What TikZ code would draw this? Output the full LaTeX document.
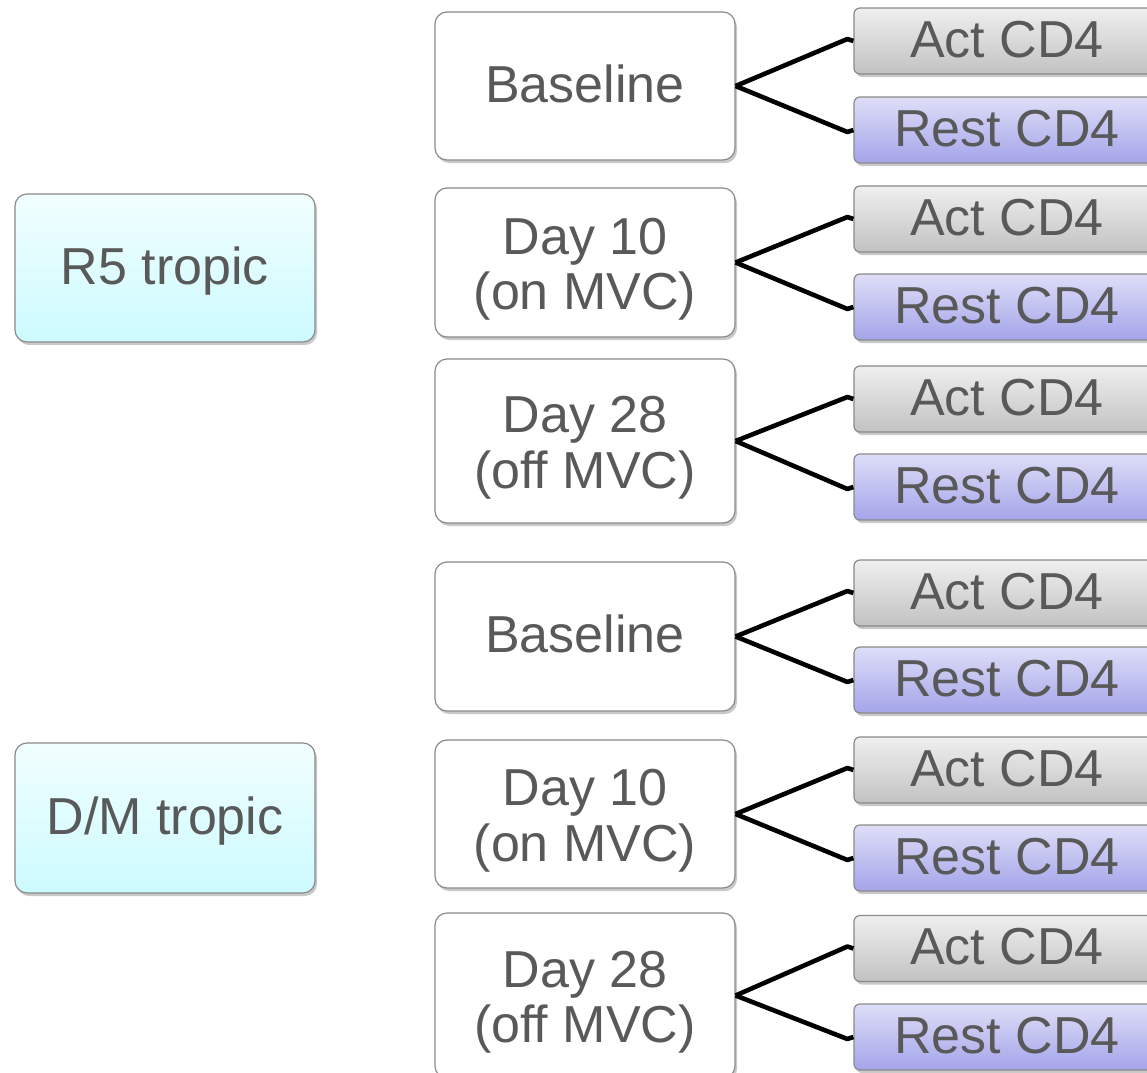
\documentclass[tikz,border=0pt]{standalone}
\usepackage{fontspec}
\setmainfont{Liberation Sans}
\usetikzlibrary{shadows}
\definecolor{txt}{HTML}{595959}
\definecolor{edge}{HTML}{8A8A8A}
\definecolor{actTop}{HTML}{EFEFEF}
\definecolor{actBot}{HTML}{C2C2C2}
\definecolor{restTop}{HTML}{DEDEF8}
\definecolor{restBot}{HTML}{A4A4EA}
\definecolor{tropTop}{HTML}{F2FEFF}
\definecolor{tropBot}{HTML}{CCFBFF}
% taller first line, so two-line labels sit a little lower in their boxes
\newcommand{\firstline}{\rule{0pt}{25pt}}
\tikzset{
  base/.style={draw=edge, line width=0.6pt, inner sep=0pt, align=center,
    text=txt, font=\fontsize{26}{27.75}\selectfont,
    drop shadow={shadow xshift=1pt, shadow yshift=-1.5pt, opacity=0.35, fill=black!60}},
  oneline/.style={text height=16pt, text depth=0pt},
  tropbox/.style={base, rounded corners=6pt, minimum width=150pt,
    top color=tropTop, bottom color=tropBot},
  datebox/.style={base, rounded corners=6pt, minimum width=150pt, fill=white},
  actbox/.style={base, oneline, rounded corners=3pt, minimum width=153pt, minimum height=33pt,
    top color=actTop, bottom color=actBot},
  restbox/.style={base, oneline, rounded corners=3pt, minimum width=153pt, minimum height=33pt,
    top color=restTop, bottom color=restBot},
  conn/.style={draw=black, line width=2.3pt, line join=round}
}
\begin{document}
\begin{tikzpicture}[x=0.5pt, y=-0.5pt]
  \clip (0,0) rectangle (1147,1072);
  \fill[white] (0,0) rectangle (1147,1072);

  % tropism groups
  \node[tropbox, oneline, minimum height=74pt] (r5) at (165,268) {R5 tropic};
  \node[tropbox, oneline, minimum height=75pt] (dm) at (165,818) {D/M tropic};

  % sampling time points
  \node[datebox, oneline, minimum height=74pt]   (t1) at (585,86)    {Baseline};
  \node[datebox, minimum height=74.5pt] (t2) at (585,262.5) {\firstline Day 10\\(on MVC)};
  \node[datebox, minimum height=82pt]   (t3) at (585,441)   {\firstline Day 28\\(off MVC)};
  \node[datebox, oneline, minimum height=74.5pt] (t4) at (585,636.5) {Baseline};
  \node[datebox, minimum height=74pt]   (t5) at (585,814)   {\firstline Day 10\\(on MVC)};
  \node[datebox, minimum height=82.5pt] (t6) at (585,995.5) {\firstline Day 28\\(off MVC)};

  % cell fractions
  \node[actbox]  (a1) at (1007,41)   {Act CD4};
  \node[restbox] (s1) at (1007,130)  {Rest CD4};
  \node[actbox]  (a2) at (1007,219)  {Act CD4};
  \node[restbox] (s2) at (1007,307)  {Rest CD4};
  \node[actbox]  (a3) at (1007,399)  {Act CD4};
  \node[restbox] (s3) at (1007,487)  {Rest CD4};
  \node[actbox]  (a4) at (1007,593)  {Act CD4};
  \node[restbox] (s4) at (1007,680)  {Rest CD4};
  \node[actbox]  (a5) at (1007,770)  {Act CD4};
  \node[restbox] (s5) at (1007,858)  {Rest CD4};
  \node[actbox]  (a6) at (1007,948.5){Act CD4};
  \node[restbox] (s6) at (1007,1037) {Rest CD4};

  % branches from each time point to its two fractions
  \foreach \i in {1,...,6}{
    \draw[conn] (t\i.east) -- ([xshift=-3pt, yshift=1pt]a\i.west) -- (a\i.west);
    \draw[conn] (t\i.east) -- ([xshift=-3pt, yshift=-1pt]s\i.west) -- (s\i.west);
  }
\end{tikzpicture}
\end{document}
